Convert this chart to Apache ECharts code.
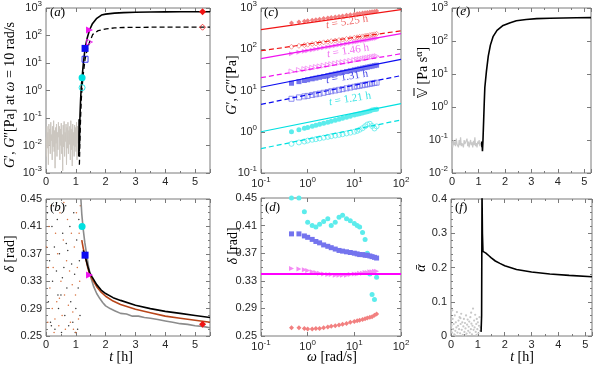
<!DOCTYPE html>
<html>
<head>
<meta charset="utf-8">
<title>gelation rheology</title>
<script src="https://cdn.jsdelivr.net/npm/echarts@6/dist/echarts.min.js"></script>
<style>html,body{margin:0;padding:0;background:#fff;}</style>
</head>
<body>
<div id="main" style="width:598px;height:365px;"></div>
<script>
// ---- data ----
// snapshots (h): 1.21 cyan, 1.31 blue, 1.46 magenta, 5.25 red
var snapTimes = [1.21, 1.31, 1.46, 5.25];
var snapGp    = [2.9, 34, 158, 730];     // G' at 10 rad/s
var snapGpp   = [1.27, 13.7, 58, 200];   // G'' at 10 rad/s
var snapDelta = [0.41, 0.368, 0.339, 0.267];

// (a) noise before gel point, sampled every aNoiseStep h
var aNoiseStep = 0.016;
var aNoise = [0.02,0.004,0.05,0.008,0.03,0.002,0.06,0.01,0.04,0.005,0.07,0.015,0.025,0.003,0.05,0.009,0.08,0.006,0.035,0.0015,0.045,0.012,0.06,0.004,0.03,0.007,0.07,0.02,0.05,0.003,0.04,0.01,0.065,0.005,0.025,0.0012,0.055,0.009,0.075,0.004,0.03,0.014,0.06,0.002,0.045,0.008,0.07,0.005,0.035,0.011,0.05,0.003,0.08,0.007,0.04,0.0018,0.06,0.01,0.03,0.004,0.055,0.009,0.045,0.006,0.07,0.003,0.05,0.012,0.035];
var aGpT  = [1.10,1.11,1.115,1.12,1.125,1.13,1.14,1.16,1.18,1.21,1.25,1.31,1.38,1.46,1.55,1.69,1.86,2.0,2.3,2.6,3.0,3.5,4.0,4.5,5.0,5.5];
var aGp   = [0.004,0.09,0.006,0.07,0.012,0.05,0.12,0.45,1.2,2.9,9,34,80,158,260,410,555,600,650,680,700,715,722,727,730,732];
var aGppT = [1.12,1.13,1.14,1.16,1.18,1.21,1.25,1.31,1.38,1.46,1.57,1.75,2.02,2.3,2.6,3.0,3.5,4.0,4.5,5.0,5.5];
var aGpp  = [0.002,0.006,0.02,0.1,0.4,1.27,4,13.7,30,58,110,150,175,188,195,198,200,200,200,200,200];

// (b) loss angle vs time
var bDotsBlack = [[0.05,0.43],[0.08,0.30],[0.12,0.36],[0.15,0.27],[0.2,0.41],[0.22,0.33],[0.28,0.38],[0.3,0.26],[0.35,0.345],[0.38,0.42],[0.42,0.29],[0.45,0.37],[0.5,0.31],[0.52,0.255],[0.56,0.40],[0.6,0.35],[0.63,0.28],[0.66,0.44],[0.7,0.32],[0.73,0.375],[0.76,0.265],[0.8,0.41],[0.83,0.30],[0.86,0.355],[0.9,0.27],[0.93,0.43],[0.96,0.34],[1.0,0.29],[1.03,0.39],[1.06,0.26],[1.08,0.32],[1.1,0.42],[1.12,0.36],[1.14,0.28],[0.18,0.265],[0.4,0.31],[0.68,0.385],[0.98,0.255],[0.25,0.44],[0.55,0.335]];
var bDotsOrange = [[0.02,0.38],[0.06,0.27],[0.1,0.41],[0.13,0.32],[0.17,0.44],[0.21,0.29],[0.24,0.35],[0.27,0.255],[0.32,0.4],[0.36,0.3],[0.39,0.37],[0.43,0.265],[0.47,0.43],[0.5,0.33],[0.54,0.28],[0.58,0.39],[0.62,0.31],[0.65,0.26],[0.69,0.36],[0.72,0.42],[0.75,0.295],[0.79,0.345],[0.82,0.27],[0.85,0.4],[0.88,0.325],[0.92,0.26],[0.95,0.38],[0.99,0.31],[1.02,0.43],[1.05,0.35],[1.09,0.275],[1.11,0.4],[1.13,0.33],[1.15,0.44],[0.08,0.35],[0.3,0.275],[0.6,0.445],[0.9,0.285],[1.0,0.255],[0.45,0.305]];
var bGrayT = [1.17,1.2,1.25,1.3,1.36,1.42,1.5,1.6,1.7,1.8,1.9,2.0,2.15,2.3,2.5,2.7,2.9,3.1,3.3,3.5,3.75,4.0,4.25,4.5,4.75,5.0,5.25,5.5];
var bGray  = [0.45,0.428,0.405,0.387,0.37,0.353,0.336,0.322,0.312,0.305,0.299,0.294,0.29,0.287,0.283,0.282,0.279,0.279,0.277,0.276,0.274,0.272,0.27,0.268,0.267,0.265,0.264,0.262];
var bOrangeT = [1.2,1.25,1.31,1.4,1.46,1.55,1.7,1.85,2.0,2.25,2.5,3.0,3.5,4.0,4.5,5.0,5.5];
var bOrange  = [0.39,0.378,0.367,0.35,0.34,0.333,0.322,0.314,0.308,0.301,0.296,0.289,0.284,0.279,0.276,0.273,0.27];
var bBlackT = [1.25,1.31,1.4,1.46,1.55,1.7,1.85,2.0,2.25,2.5,3.0,3.5,4.0,4.5,5.0,5.5];
var bBlack  = [0.375,0.367,0.352,0.343,0.336,0.325,0.317,0.312,0.306,0.302,0.295,0.29,0.286,0.283,0.28,0.277];

// (c),(d) frequency sweeps
var omegaSweep = [0.45,0.65,0.85,1.0,1.25,1.5,1.8,2.2,2.7,3.2,3.9,4.7,5.6,6.8,8.2,10,11.5,13,15,17,19,21.5,24,27,30];
var gp121  = [1.0,1.12,1.21,1.27,1.36,1.44,1.52,1.61,1.71,1.8,1.91,2.02,2.13,2.26,2.39,2.54,2.64,2.74,2.86,2.97,3.07,3.2,3.35,3.45,3.5];
var gpp121 = [0.51,0.55,0.58,0.61,0.64,0.66,0.69,0.72,0.75,0.78,0.81,0.84,0.87,0.91,0.95,1.0,1.05,1.12,1.22,1.36,1.5,1.56,1.38,1.2,1.35];
var gp131  = [15.0,16.4,17.5,18.2,19.2,20.0,20.9,21.9,23.0,24.0,25.2,26.3,27.5,28.8,30.1,31.6,32.6,33.6,34.8,35.9,36.8,37.9,38.9,40.1,41.0];
var gpp131 = [6.3,6.8,7.2,7.4,7.8,8.1,8.4,8.8,9.2,9.6,10.0,10.4,10.8,11.3,11.8,12.3,12.7,13.0,13.4,13.8,14.1,14.5,14.8,15.2,15.5];
var gp146  = [78,84,89,92,96,100,104,108,113,117,122,126,131,136,142,148,152,156,160,164,168,173,177,181,185];
var gpp146 = [29,31.3,33,34,35.5,37,38.4,40,41.8,43.3,45.1,46.8,48.5,50.4,52.3,54.5,56,57.5,59,60.5,61.9,63.5,65,66.7,68];
var gp525  = [430,456,476,489,506,521,537,554,573,589,608,626,644,664,684,707,722,736,754,769,783,798,813,828,843];
var gpp525 = [115,121,126,129,134,138,142,147,152,157,162,167,172,178,184,190,195,200,205,210,215,220,225,230,236];
var d121 = [0.45,0.45,0.43,0.415,0.41,0.408,0.412,0.416,0.42,0.41,0.415,0.422,0.425,0.42,0.417,0.413,0.41,0.408,0.40,0.39,0.37,0.34,0.31,0.303,0.335];
var d131 = [0.398,0.398,0.395,0.393,0.39,0.387,0.385,0.382,0.38,0.378,0.376,0.374,0.373,0.372,0.371,0.37,0.369,0.368,0.368,0.367,0.367,0.366,0.365,0.364,0.363];
var d146 = [0.348,0.347,0.346,0.345,0.343,0.342,0.341,0.34,0.339,0.339,0.338,0.338,0.338,0.338,0.339,0.34,0.34,0.341,0.341,0.342,0.342,0.343,0.343,0.344,0.344];
var d525 = [0.262,0.262,0.261,0.26,0.26,0.261,0.261,0.262,0.263,0.264,0.265,0.266,0.267,0.268,0.27,0.271,0.272,0.273,0.274,0.275,0.276,0.277,0.278,0.28,0.282];
// power-law fits, value at omega = 0.1 and 100
var fitOmega = [0.1, 100];
var fitGp  = [[1.0,4.8],[12,57],[59,240],[300,910]];
var fitGpp = [[0.39,1.93],[4.6,23],[20.5,78],[92,280]];
var dLevel = 0.34;

// (e) quasi-property
var eNoiseStep = 0.027;
var eNoise = [0.08,0.06,0.1,0.07,0.09,0.065,0.11,0.075,0.085,0.06,0.1,0.07,0.12,0.065,0.08,0.09,0.06,0.1,0.075,0.085,0.07,0.11,0.065,0.09,0.06,0.08,0.1,0.07,0.085,0.06,0.095,0.07,0.12,0.065,0.08,0.06,0.09,0.075,0.1,0.065,0.08,0.07];
var eVT = [1.12,1.13,1.14,1.15,1.17,1.2,1.22,1.24,1.3,1.37,1.45,1.55,1.7,1.93,2.2,2.43,2.8,3.2,3.7,4.2,4.7,5.25];
var eV  = [0.09,0.06,0.08,0.046,0.1,0.5,1.5,3.9,12,35,75,135,210,295,360,410,450,475,490,500,505,510];

// (f) exponent
var fDots = [[0.02,0.03],[0.04,0.01],[0.06,0.05],[0.08,0.02],[0.1,0.035],[0.12,0.005],[0.14,0.06],[0.16,0.015],[0.18,0.04],[0.2,0.025],[0.22,0.07],[0.24,0.01],[0.26,0.03],[0.28,0.045],[0.3,0.02],[0.32,0.055],[0.34,0.008],[0.36,0.035],[0.38,0.065],[0.4,0.018],[0.42,0.04],[0.44,0.003],[0.46,0.028],[0.48,0.05],[0.5,0.012],[0.52,0.038],[0.54,0.022],[0.56,0.06],[0.58,0.007],[0.6,0.033],[0.62,0.048],[0.64,0.015],[0.66,0.027],[0.68,0.042],[0.7,0.01],[0.72,0.055],[0.74,0.02],[0.76,0.036],[0.78,0.005],[0.8,0.03],[0.82,0.08],[0.84,0.018],[0.86,0.045],[0.88,0.025],[0.9,0.062],[0.92,0.012],[0.94,0.035],[0.96,0.05],[0.98,0.02],[1.0,0.04],[1.02,0.008],[1.04,0.03],[1.06,0.055],[1.08,0.015],[1.1,0.025],[0.05,0.075],[0.15,0.002],[0.35,0.052],[0.55,0.002],[0.75,0.068],[0.95,0.003]];
var fAlphaT = [1.12,1.14,1.155,1.17,1.19,1.3,1.4,1.5,1.65,1.82,2.0,2.44,3.0,3.68,4.4,5.25];
var fAlpha  = [0.012,0.06,0.42,0.3,0.247,0.242,0.235,0.228,0.219,0.212,0.205,0.194,0.187,0.181,0.177,0.173];

// ---- styling ----
var SANS = 'Liberation Sans', SERIF = 'Liberation Serif';
var FRAME = '#7a7a7a', INK = '#262626';
var snapColor = ['#00e0e0', '#0c0cf0', '#f014f0', '#f01414'];
var lightColor = ['#5cecec', '#7474ee', '#f48af4', '#f28080'];
var snapSymbol = ['circle', 'rect', 'triangle', 'diamond'];
var snapRotate = [0, 0, -90, 0];

function zip(xs, ys) { return xs.map(function (x, i) { return [x, ys[i]]; }); }

var grids = [
  {left: 46, top: 1, width: 164, height: 172},
  {left: 46, top: 199, width: 164, height: 137},
  {left: 261, top: 1, width: 140, height: 172},
  {left: 261, top: 198, width: 140, height: 138},
  {left: 452, top: 1, width: 139, height: 172},
  {left: 451, top: 199, width: 141, height: 137}
];
var xSpecs = [
  {min: 0, max: 5.5, interval: 1, minor: 2, hideMax: true},
  {min: 0, max: 5.5, interval: 1, minor: 2, hideMax: true},
  {log: true, min: 0.1, max: 100},
  {log: true, min: 0.1, max: 100},
  {min: 0, max: 5.25, interval: 1, minor: 2, hideMax: true},
  {min: 0, max: 5.25, interval: 1, minor: 2, hideMax: true}
];
var ySpecs = [
  {log: true, min: 0.001, max: 1000},
  {min: 0.25, max: 0.45, interval: 0.04, minor: 4, digits: 2},
  {log: true, min: 0.1, max: 1000},
  {min: 0.25, max: 0.45, interval: 0.04, minor: 4, digits: 2},
  {log: true, min: 0.01, max: 1000},
  {min: 0, max: 0.4, interval: 0.1, minor: 5}
];

function makeAxis(spec, gi, pos, withLabels) {
  var ax = {
    type: spec.log ? 'log' : 'value', gridIndex: gi, position: pos,
    min: spec.min, max: spec.max,
    axisLine: {show: false, onZero: false},
    axisTick: {show: true, inside: true, length: 4, lineStyle: {color: FRAME}},
    splitLine: {show: false},
    axisLabel: {
      show: withLabels, fontFamily: SANS, fontSize: 11, color: INK,
      margin: (pos === 'bottom') ? 3 : 4,
      showMaxLabel: !spec.hideMax,
      formatter: spec.log ? function (v) {
        return '10{s|' + Math.round(Math.log10(v)) + '}';
      } : function (v) {
        return spec.digits ? v.toFixed(spec.digits) : String(+v.toFixed(2));
      },
      rich: {s: {fontSize: 8, fontFamily: SANS, color: INK, padding: [0, 0, 8, 0]}}
    }
  };
  if (spec.log) { ax.logBase = 10; }
  else {
    ax.interval = spec.interval;
    ax.minorTick = {show: true, splitNumber: spec.minor, length: 2, lineStyle: {color: FRAME}};
  }
  return ax;
}

var xAxes = [], yAxes = [];
xSpecs.forEach(function (s, i) { xAxes.push(makeAxis(s, i, 'bottom', true)); });
xSpecs.forEach(function (s, i) { xAxes.push(makeAxis(s, i, 'top', false)); });
ySpecs.forEach(function (s, i) { yAxes.push(makeAxis(s, i, 'left', true)); });
ySpecs.forEach(function (s, i) { yAxes.push(makeAxis(s, i, 'right', false)); });

function line(gi, data, color, width, dash, z) {
  return {type: 'line', xAxisIndex: gi, yAxisIndex: gi, data: data, symbol: 'none',
    lineStyle: {color: color, width: width, type: dash ? [5, 3] : 'solid'}, z: z || 3, silent: true};
}
function dots(gi, data, symbol, size, color, open, rotate, z) {
  return {type: 'scatter', xAxisIndex: gi, yAxisIndex: gi, data: data, symbol: symbol,
    symbolSize: size, symbolRotate: rotate || 0, z: z || 2, silent: true,
    itemStyle: open ? {color: 'rgba(255,255,255,0)', borderColor: color, borderWidth: 1}
                    : {color: color, opacity: 1}};
}

var series = [];
// (a)
series.push(line(0, aNoise.map(function (v, i) { return [i * aNoiseStep, v]; }), '#cbc6bf', 1));
series.push(line(0, zip(aGpT, aGp), '#000', 1.6, false, 4));
series.push(line(0, zip(aGppT, aGpp), '#000', 1.3, true, 4));
snapTimes.forEach(function (t, k) {
  series.push(dots(0, [[t, snapGp[k]]], snapSymbol[k], 7, snapColor[k], false, snapRotate[k], 5));
  series.push(dots(0, [[t, snapGpp[k]]], snapSymbol[k], 6, snapColor[k], true, snapRotate[k], 5));
});
// (b)
series.push(dots(1, bDotsBlack, 'circle', 1.5, '#333'));
series.push(dots(1, bDotsOrange, 'circle', 1.5, '#d8703c'));
series.push(line(1, zip(bGrayT, bGray), '#8c8c8c', 1.6));
series.push(line(1, zip(bOrangeT, bOrange), '#b8461a', 1.6));
series.push(line(1, zip(bBlackT, bBlack), '#000', 1.6));
snapTimes.forEach(function (t, k) {
  series.push(dots(1, [[t, snapDelta[k]]], snapSymbol[k], 7, snapColor[k], false, snapRotate[k], 5));
});
// (c)
var gpSets = [gp121, gp131, gp146, gp525], gppSets = [gpp121, gpp131, gpp146, gpp525];
snapTimes.forEach(function (t, k) {
  series.push(dots(2, zip(omegaSweep, gpSets[k]), snapSymbol[k], 5, lightColor[k], false, snapRotate[k]));
  series.push(dots(2, zip(omegaSweep, gppSets[k]), snapSymbol[k], 5, lightColor[k], true, snapRotate[k]));
});
snapTimes.forEach(function (t, k) {
  series.push(line(2, zip(fitOmega, fitGp[k]), snapColor[k], 1.2, false, 4));
  series.push(line(2, zip(fitOmega, fitGpp[k]), snapColor[k], 1.2, true, 4));
});
// (d)
var dSets = [d121, d131, d146, d525];
snapTimes.forEach(function (t, k) {
  series.push(dots(3, zip(omegaSweep, dSets[k]), snapSymbol[k], 5, lightColor[k], false, snapRotate[k]));
});
series.push(line(3, [[fitOmega[0], dLevel], [fitOmega[1], dLevel]], '#ff00ff', 2, false, 4));
// (e)
series.push(line(4, eNoise.map(function (v, i) { return [i * eNoiseStep, v]; }), '#c8c8c8', 1.2));
series.push(line(4, zip(eVT, eV), '#000', 1.6, false, 4));
// (f)
series.push(dots(5, fDots, 'circle', 2.2, '#c8c8c8'));
series.push(line(5, zip(fAlphaT, fAlpha), '#000', 1.6, false, 4));

// ---- titles and annotations ----
function tex(x, y, text, rot, align, size, color) {
  size = size || 14; color = color || '#000';
  return {type: 'text', x: x, y: y, rotation: rot || 0, z: 100,
    style: {text: text, align: align || 'center', verticalAlign: 'middle', fill: color,
      font: size + 'px "' + SERIF + '"',
      rich: {
        i: {fontStyle: 'italic', fontFamily: SERIF, fontSize: size, fill: color},
        r: {fontFamily: SERIF, fontSize: size, fill: color},
        s: {fontFamily: SERIF, fontSize: Math.round(size * 0.7), fill: color, padding: [0, 0, 7, 0]},
        v: {fontFamily: 'DejaVu Sans', fontSize: size, fill: color}
      }}};
}
var UP = Math.PI / 2;
var graphics = [
  tex(10, 168, '{i|G}{r|′, }{i|G}{r|″[Pa] at }{i|ω}{r| = 10 rad/s}', UP, 'left'),
  tex(10, 254, '{i|δ}{r| [rad]}', UP),
  tex(121, 357, '{i|t}{r| [h]}', 0),
  tex(232, 85, '{i|G}{r|′, }{i|G}{r|″[Pa]}', UP),
  tex(233, 246, '{i|δ}{r| [rad]}', UP),
  tex(332, 357, '{i|ω}{r| [rad/s]}', 0),
  tex(423, 98, '{v|𝕍}{r| [Pa s}{s|α}{r|]}', UP, 'left'),
  // bar over the V
  {type: 'line', z: 100, shape: {x1: 414, y1: 96, x2: 414, y2: 88}, style: {stroke: '#000', lineWidth: 1}},
  tex(421, 268, '{i|ᾱ}', UP),
  tex(522, 357, '{i|t}{r| [h]}', 0),
  tex(50, 13, '{r|(}{i|a}{r|)}', 0, 'left', 13),
  tex(50, 208, '{r|(}{i|b}{r|)}', 0, 'left', 13),
  tex(264, 13, '{r|(}{i|c}{r|)}', 0, 'left', 13),
  tex(265, 208, '{r|(}{i|d}{r|)}', 0, 'left', 13),
  tex(456, 12, '{r|(}{i|e}{r|)}', 0, 'left', 13),
  tex(455, 208, '{r|(}{i|f}{r|)}', 0, 'left', 13)
];
var fitLabelPos = [[350, 99], [347, 77], [348, 51], [347, 22]];
var fitLabelColor = ['#3ee4e4', '#4a4ae6', '#f070f0', '#f06a6a'];
snapTimes.forEach(function (t, k) {
  graphics.push(tex(fitLabelPos[k][0], fitLabelPos[k][1],
    '{i|t}{r| = ' + t.toFixed(2) + ' h}', 0.16, 'center', 11, fitLabelColor[k]));
});

var option = {
  animation: false,
  backgroundColor: '#fff',
  grid: grids.map(function (g) {
    return {left: g.left, top: g.top, width: g.width, height: g.height,
      show: true, borderColor: FRAME, borderWidth: 1, backgroundColor: '#fff'};
  }),
  xAxis: xAxes,
  yAxis: yAxes,
  series: series,
  graphic: graphics
};

var myChart = echarts.init(document.getElementById('main'));
myChart.setOption(option);
</script>
</body>
</html>
